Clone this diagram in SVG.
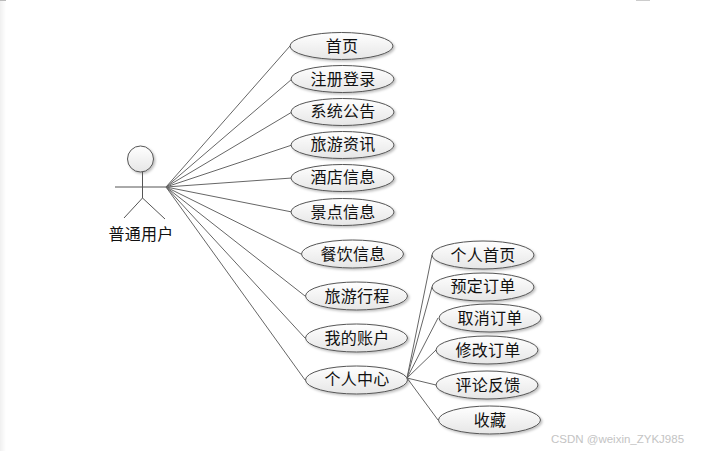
<svg xmlns="http://www.w3.org/2000/svg" width="704" height="451" viewBox="0 0 704 451">
<style>
text{font-family:"Liberation Sans","Noto Sans CJK SC",sans-serif;font-size:16px;fill:#111;text-anchor:middle;letter-spacing:0.2px}
.e{fill:url(#g);stroke:#555;stroke-width:1;filter:url(#s)}
.c line{stroke:#666;stroke-width:1}
.a{fill:none;stroke:#555;stroke-width:1}
</style>
<defs>
<linearGradient id="g" x1="0" y1="0" x2="0" y2="1"><stop offset="0" stop-color="#fff"/><stop offset="1" stop-color="#e6e6e6"/></linearGradient>
<linearGradient id="l" x1="0" y1="0" x2="1" y2="0"><stop offset="0" stop-color="#f0f0f0"/><stop offset="1" stop-color="#fff"/></linearGradient>
<filter id="s" x="-10%" y="-20%" width="125%" height="150%"><feDropShadow dx="1.5" dy="1.5" stdDeviation="1" flood-color="#000" flood-opacity="0.25"/></filter>
</defs>
<rect width="704" height="451" fill="#fff"/>
<rect x="0" y="0" width="6" height="451" fill="url(#l)"/>
<rect x="0" y="0" width="6" height="1" fill="#bbb"/>
<rect x="636" y="0" width="14" height="1" fill="#ccc"/>
<g id="connectors" class="c">
<line x1="166" y1="187" x2="290" y2="46"/>
<line x1="166" y1="187" x2="292" y2="79"/>
<line x1="166" y1="187" x2="292" y2="112"/>
<line x1="166" y1="187" x2="292" y2="145"/>
<line x1="166" y1="187" x2="292" y2="178"/>
<line x1="166" y1="187" x2="292" y2="212"/>
<line x1="166" y1="187" x2="301" y2="254"/>
<line x1="166" y1="187" x2="305" y2="296"/>
<line x1="166" y1="187" x2="305" y2="338"/>
<line x1="166" y1="187" x2="305" y2="380"/>
<line x1="407" y1="378" x2="432" y2="255"/>
<line x1="407" y1="378" x2="432" y2="287"/>
<line x1="407" y1="378" x2="438" y2="318"/>
<line x1="407" y1="378" x2="436" y2="350"/>
<line x1="407" y1="378" x2="436" y2="385"/>
<line x1="407" y1="378" x2="438" y2="420"/>
</g>
<g id="actor">
<circle class="e" cx="140.500" cy="159" r="13"/>
<path class="a" d="M142.500 172V198M115 187H166M142.500 198L124 218M142.500 198L165 219"/>
<text x="141" y="240">普通用户</text>
</g>
<g id="n1"><ellipse class="e" cx="341.500" cy="46" rx="51.500" ry="13.500"/><text x="342" y="52">首页</text></g>
<g id="n2"><ellipse class="e" cx="342.500" cy="79" rx="51.500" ry="13.500"/><text x="343" y="85">注册登录</text></g>
<g id="n3"><ellipse class="e" cx="342.500" cy="112" rx="51.500" ry="13.500"/><text x="343" y="117">系统公告</text></g>
<g id="n4"><ellipse class="e" cx="342.500" cy="145" rx="51.500" ry="13.500"/><text x="343" y="150">旅游资讯</text></g>
<g id="n5"><ellipse class="e" cx="342.500" cy="178" rx="51.500" ry="13.500"/><text x="343" y="183">酒店信息</text></g>
<g id="n6"><ellipse class="e" cx="342.500" cy="212" rx="51.500" ry="13.500"/><text x="343" y="218">景点信息</text></g>
<g id="n7"><ellipse class="e" cx="352.500" cy="254" rx="51" ry="14"/><text x="353" y="260">餐饮信息</text></g>
<g id="n8"><ellipse class="e" cx="356.500" cy="296" rx="51" ry="14"/><text x="357" y="302">旅游行程</text></g>
<g id="n9"><ellipse class="e" cx="356.500" cy="338" rx="51" ry="14"/><text x="357" y="344">我的账户</text></g>
<g id="n10"><ellipse class="e" cx="356.500" cy="380" rx="51" ry="14"/><text x="357" y="385">个人中心</text></g>
<g id="n11"><ellipse class="e" cx="483" cy="255" rx="51" ry="14"/><text x="483" y="261">个人首页</text></g>
<g id="n12"><ellipse class="e" cx="483" cy="287" rx="51" ry="14"/><text x="483" y="292">预定订单</text></g>
<g id="n13"><ellipse class="e" cx="490" cy="318" rx="51" ry="14"/><text x="490" y="324">取消订单</text></g>
<g id="n14"><ellipse class="e" cx="487" cy="350" rx="51" ry="14"/><text x="488" y="356">修改订单</text></g>
<g id="n15"><ellipse class="e" cx="487" cy="385" rx="51" ry="14"/><text x="488" y="391">评论反馈</text></g>
<g id="n16"><ellipse class="e" cx="489.500" cy="420" rx="51" ry="14"/><text x="490" y="426">收藏</text></g>
<text x="617.500" y="443" style="font-size:11.500px;fill:#c4c4c4;letter-spacing:0">CSDN @weixin_ZYKJ985</text>
</svg>
